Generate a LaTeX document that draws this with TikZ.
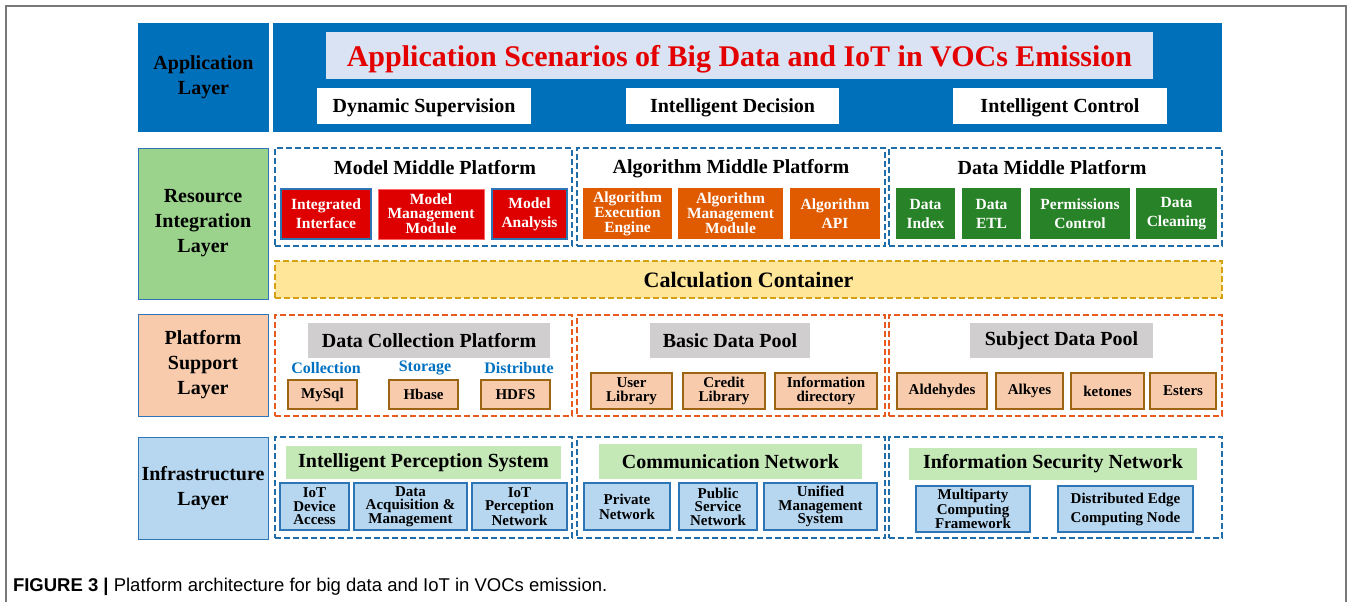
\documentclass[tikz,border=0pt]{standalone}
\usepackage{fontspec}
\setmainfont{Liberation Serif}
\newfontfamily\capfont{Liberation Sans}
\definecolor{appblue}{RGB}{0,112,186}
\definecolor{titlebg}{RGB}{218,227,243}
\definecolor{titlered}{RGB}{228,0,0}
\definecolor{resgreen}{RGB}{155,211,140}
\definecolor{lblborder}{RGB}{46,117,182}
\definecolor{redbox}{RGB}{222,0,0}
\definecolor{orangebox}{RGB}{224,90,0}
\definecolor{greenbox}{RGB}{40,130,40}
\definecolor{dashblue}{RGB}{31,110,170}
\definecolor{calcfill}{RGB}{255,230,153}
\definecolor{calcborder}{RGB}{214,160,20}
\definecolor{peach}{RGB}{248,203,173}
\definecolor{dashorange}{RGB}{232,90,30}
\definecolor{graytitle}{RGB}{208,206,206}
\definecolor{brownb}{RGB}{156,101,20}
\definecolor{infrablue}{RGB}{183,215,240}
\definecolor{lightgreen}{RGB}{197,232,183}
\definecolor{bluetext}{RGB}{0,112,192}
\definecolor{framegray}{RGB}{120,120,120}
\newcommand\fnt[2]{\fontsize{#1}{#2}\selectfont\bfseries}
\newcommand\bx[7]{\node[#6, minimum width={#4-#2}, minimum height={#5-#3}] (#1) at ({(#2+#4)/2},{(#3+#5)/2}) {#7};}
\begin{document}
\begin{tikzpicture}[x=1pt,y=-1pt,
  every node/.style={inner sep=0pt, outer sep=0pt, align=center},
  lbl/.style={draw=lblborder, line width=1pt, font=\fnt{20}{25}},
  dbox/.style={draw=dashblue, line width=2pt, dash pattern=on 6pt off 3pt},
  obox/.style={draw=dashorange, line width=2pt, dash pattern=on 6pt off 3pt},
  ptitle/.style={font=\fnt{20}{24}},
  wtext/.style={text=white, font=\fnt{15.5}{19}},
  wtight/.style={text=white, font=\fnt{15.5}{13.5}},
  appsub/.style={fill=white, font=\fnt{20}{24}, text depth=0pt},
  grayt/.style={fill=graytitle, font=\fnt{20}{24}},
  greent/.style={fill=lightgreen, font=\fnt{20}{24}},
  pbox/.style={fill=peach, draw=brownb, line width=1.5pt, font=\fnt{15}{13.5}},
  ibox/.style={fill=infrablue, draw=lblborder, line width=1.5pt, font=\fnt{15}{13.5}},
  bluelbl/.style={text=bluetext, font=\fnt{16}{19}}
]
\useasboundingbox (0,0) rectangle (1354,602);
\draw[framegray, line width=1.5pt] (6,602) -- (6,6) -- (1346,6) -- (1346,602);

% Application layer
\bx{appl}{138}{23}{269}{132}{fill=appblue, font=\fnt{20}{25}}{Application\\Layer}
\bx{appm}{273}{23}{1222}{132}{fill=appblue}{}
\bx{apptitle}{326}{32}{1153}{79}{fill=titlebg, text=titlered, font=\fnt{30}{34}, text depth=0pt}{Application Scenarios of Big Data and IoT in VOCs Emission}
\bx{dyn}{317}{88}{531}{124}{appsub}{Dynamic Supervision}
\bx{idec}{626}{88}{839}{124}{appsub}{Intelligent Decision}
\bx{ictl}{953}{88}{1167}{124}{appsub}{Intelligent Control}

% Resource integration layer
\bx{resl}{138}{148}{268}{299}{lbl, fill=resgreen}{Resource\\Integration\\Layer}
\bx{mmp}{275}{148}{572}{246}{dbox}{}
\node[ptitle] (mmpt) at (435,168) {Model Middle Platform};
\bx{ii}{281}{189}{371}{239}{fill=redbox, draw=lblborder, line width=1.5pt, wtext}{Integrated\\Interface}
\bx{mmm}{378}{189}{484}{239}{fill=redbox, draw=red!60, line width=1pt, wtight}{Model\\Management\\Module}
\bx{ma}{492}{189}{567}{239}{fill=redbox, draw=lblborder, line width=1.5pt, wtext}{Model\\Analysis}

\bx{amp}{577}{148}{885}{246}{dbox}{}
\node[ptitle] (ampt) at (731,169) {Algorithm Middle Platform};
\bx{aee}{583}{188}{672}{239}{fill=orangebox, wtight, font=\fnt{15.5}{15}}{Algorithm\\Execution\\Engine}
\bx{amm}{678}{188}{783}{239}{fill=orangebox, wtight}{Algorithm\\Management\\Module}
\bx{aapi}{790}{188}{880}{239}{fill=orangebox, wtext}{Algorithm\\API}

\bx{dmp}{889}{148}{1222}{246}{dbox}{}
\node[ptitle] (dmpt) at (1052,168) {Data Middle Platform};
\bx{didx}{896}{188}{955}{239}{fill=greenbox, wtext}{Data\\Index}
\bx{detl}{962}{188}{1021}{239}{fill=greenbox, wtext}{Data\\ETL}
\bx{perm}{1030}{188}{1130}{239}{fill=greenbox, wtext}{Permissions\\Control}
\bx{dcl}{1136}{188}{1217}{239}{fill=greenbox, wtext}{Data\\Cleaning}

\bx{calc}{275}{261}{1222}{298}{fill=calcfill, draw=calcborder, line width=2pt, dash pattern=on 6pt off 3pt, font=\fnt{22}{26}}{Calculation Container}

% Platform support layer
\bx{psl}{138}{314}{268}{416}{lbl, fill=peach}{Platform\\Support\\Layer}
\bx{dcp}{275}{315}{572}{416}{obox}{}
\bx{dcpt}{308}{323}{550}{358}{grayt}{Data Collection Platform}
\node[bluelbl] (lcol) at (326,368) {Collection};
\node[bluelbl] (lsto) at (425,368) {Storage};
\node[bluelbl] (ldis) at (519,368) {Distribute};
\bx{mysql}{288}{380}{357}{409}{pbox}{MySql}
\bx{hbase}{389}{380}{458}{409}{pbox}{Hbase}
\bx{hdfs}{481}{380}{550}{409}{pbox}{HDFS}

\bx{bdp}{577}{315}{885}{416}{obox}{}
\bx{bdpt}{650}{323}{810}{358}{grayt}{Basic Data Pool}
\bx{ulib}{591}{373}{672}{409}{pbox}{User\\Library}
\bx{clib}{683}{373}{765}{409}{pbox}{Credit\\Library}
\bx{idir}{775}{373}{877}{409}{pbox}{Information\\directory}

\bx{sdp}{889}{315}{1222}{416}{obox}{}
\bx{sdpt}{970}{323}{1153}{358}{grayt}{Subject Data Pool}
\bx{ald}{897}{373}{987}{409}{pbox}{Aldehydes}
\bx{alk}{996}{373}{1063}{409}{pbox}{Alkyes}
\bx{ket}{1071}{373}{1144}{409}{pbox}{ketones}
\bx{est}{1150}{373}{1216}{409}{pbox}{Esters}

% Infrastructure layer
\bx{infl}{138}{437}{268}{539}{lbl, fill=infrablue}{Infrastructure\\Layer}
\bx{ips}{275}{437}{572}{538}{dbox}{}
\bx{ipst}{286}{446}{561}{479}{greent}{Intelligent Perception System}
\bx{iotd}{280}{483}{349}{530}{ibox}{IoT\\Device\\Access}
\bx{daq}{354}{483}{467}{530}{ibox}{Data\\Acquisition \&\\Management}
\bx{iotp}{472}{483}{567}{530}{ibox}{IoT\\Perception\\Network}

\bx{cn}{577}{437}{885}{538}{dbox}{}
\bx{cnt}{599}{444}{862}{479}{greent}{Communication Network}
\bx{priv}{584}{483}{670}{530}{ibox, font=\fnt{15}{15}}{Private\\Network}
\bx{pub}{679}{483}{757}{530}{ibox}{Public\\Service\\Network}
\bx{uni}{764}{483}{877}{530}{ibox}{Unified\\Management\\System}

\bx{isn}{889}{437}{1222}{538}{dbox}{}
\bx{isnt}{909}{448}{1197}{480}{greent}{Information Security Network}
\bx{mpc}{916}{486}{1030}{532}{ibox}{Multiparty\\Computing\\Framework}
\bx{dec}{1058}{486}{1193}{532}{ibox, font=\fnt{15}{19}}{Distributed Edge\\Computing Node}

% Caption
\node[anchor=base west, font=\capfont\fontsize{18.5}{22}\selectfont] (cap) at (13,591) {\textbf{FIGURE 3 |} Platform architecture for big data and IoT in VOCs emission.};
\end{tikzpicture}
\end{document}
